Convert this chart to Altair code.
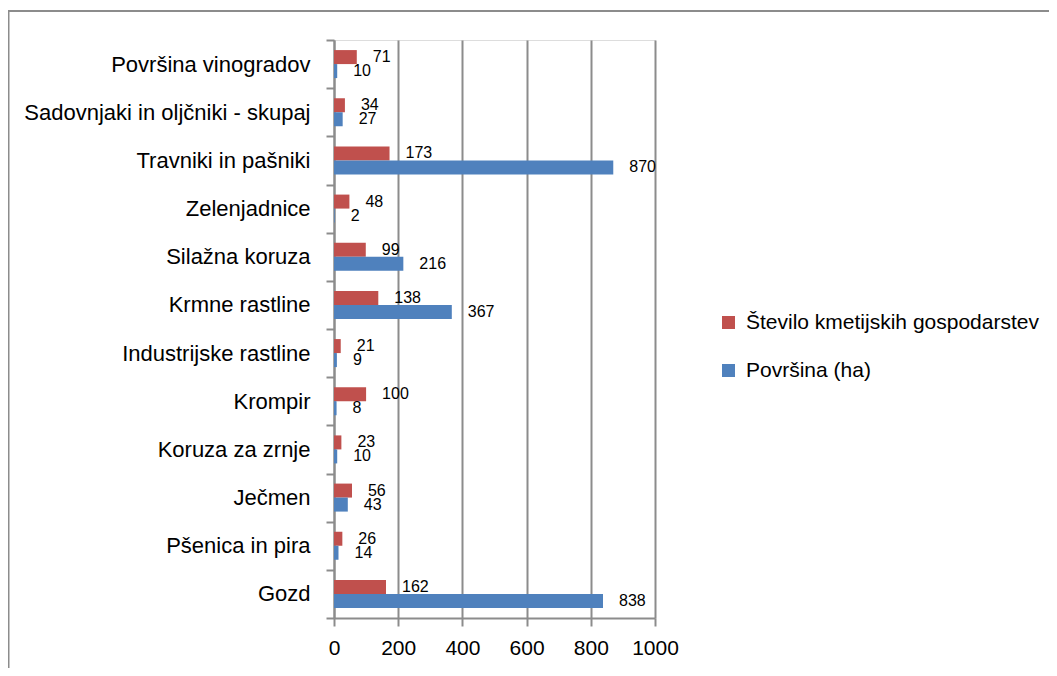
import altair as alt
import pandas as pd

categories = ["Površina vinogradov", "Sadovnjaki in oljčniki - skupaj", "Travniki in pašniki",
              "Zelenjadnice", "Silažna koruza", "Krmne rastline", "Industrijske rastline",
              "Krompir", "Koruza za zrnje", "Ječmen", "Pšenica in pira", "Gozd"]
farms = [71, 34, 173, 48, 99, 138, 21, 100, 23, 56, 26, 162]
area = [10, 27, 870, 2, 216, 367, 9, 8, 10, 43, 14, 838]
series = ["Število kmetijskih gospodarstev", "Površina (ha)"]
colors = ["#C0504D", "#4F81BD"]
x_ticks = [0, 200, 400, 600, 800, 1000]

rows = []
for c, f, a in zip(categories, farms, area):
    rows.append({"cat": c, "series": series[0], "value": f})
    rows.append({"cat": c, "series": series[1], "value": a})
df = pd.DataFrame(rows)

FONT = "Liberation Sans"
GRAY = "#8C8C8C"

y_enc = alt.Y("cat:N", sort=categories, title=None,
              scale=alt.Scale(paddingInner=0, paddingOuter=0),
              axis=alt.Axis(tickBand="extent", labelFont=FONT, labelFontSize=22,
                            labelColor="black", labelPadding=16, tickSize=8,
                            tickColor=GRAY, domainColor=GRAY, domainWidth=2,
                            tickWidth=2, grid=False, labelLimit=400))
yoff = alt.YOffset("series:N", sort=series,
                   scale=alt.Scale(paddingInner=0, paddingOuter=0.72))
x_enc = alt.X("value:Q", title=None,
              scale=alt.Scale(domain=[0, 1000], nice=False),
              axis=alt.Axis(values=x_ticks, format="d", labelFont=FONT,
                            labelFontSize=21, labelColor="black",
                            labelPadding=11, tickSize=8, tickColor=GRAY,
                            tickWidth=2, domainColor=GRAY, domainWidth=2,
                            grid=True, gridColor=GRAY, gridWidth=2,
                            labelOverlap=False, labelFlush=False))

base = alt.Chart(df)

bars = base.mark_bar().encode(
    x=x_enc,
    y=y_enc,
    yOffset=yoff,
    color=alt.Color("series:N", sort=series,
                    scale=alt.Scale(domain=series, range=colors),
                    legend=alt.Legend(title=None, orient="none", legendX=384,
                                      legendY=272, labelFont=FONT,
                                      labelFontSize=21, labelColor="black",
                                      symbolType="square", symbolSize=169,
                                      symbolStrokeWidth=0, labelOffset=7,
                                      rowPadding=26, padding=0,
                                      labelLimit=500)),
)

labels = base.mark_text(align="left", baseline="middle", dx=16, font=FONT,
                        fontSize=16, color="black").encode(
    x=alt.X("value:Q"),
    y=alt.Y("cat:N", sort=categories),
    yOffset=alt.YOffset("series:N", sort=series),
    text=alt.Text("value:Q"),
)

frame = alt.Chart(alt.Data(values=[{"a": 1}])).mark_rect(
    fill="transparent", stroke=GRAY, strokeWidth=2).encode(
    x=alt.value(-325.5), x2=alt.value(900), y=alt.value(-29), y2=alt.value(800))

chart = alt.layer(frame, bars, labels).properties(
    width=321, height=578,
    autosize=alt.AutoSizeParams(type="none"),
    padding={"left": 326, "top": 32, "right": 394, "bottom": 50},
).configure_view(stroke=None).configure(background="white")

chart.save("out.html", embed_options={"renderer": "svg", "actions": False})
